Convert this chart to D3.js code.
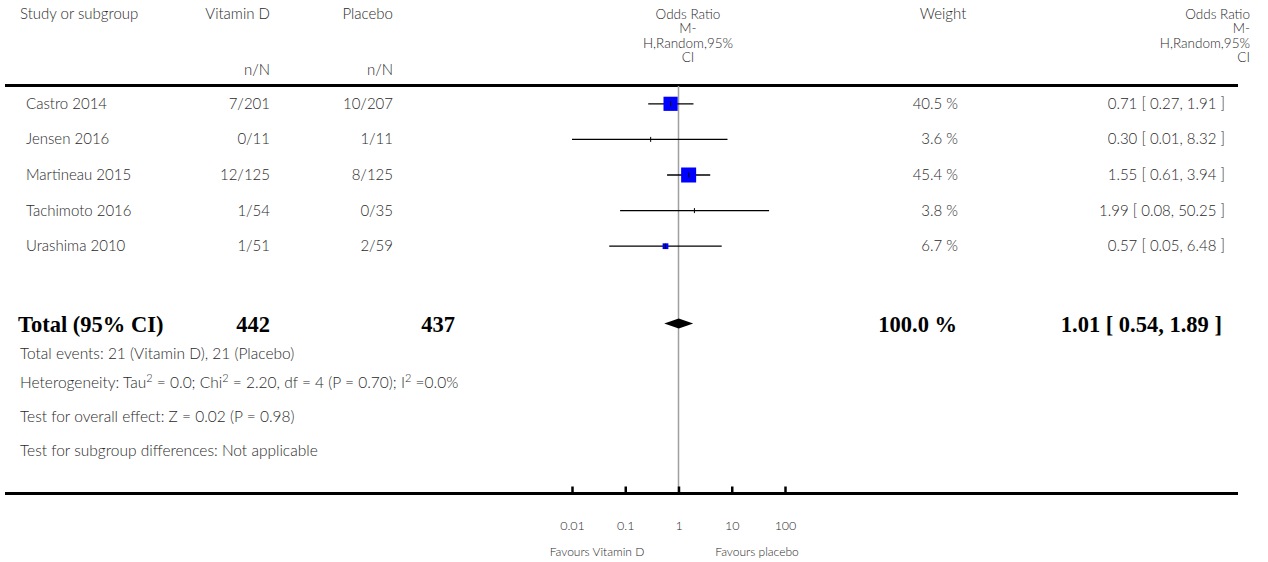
<!DOCTYPE html>
<html lang="en">
<head>
    <meta charset="UTF-8">
    <title>Forest plot - Vitamin D vs Placebo</title>
    <style>
        body { margin: 0; background: #fff; }
        svg text { font-family: Lato, "Open Sans", sans-serif; font-weight: 300; fill: #2a2a2a; }
        svg text.bold { font-family: "Liberation Serif", "DejaVu Serif", serif; font-weight: bold; fill: #000; }
    </style>
</head>
<body>
    <svg id="forest" width="1268" height="562"></svg>

    <script src="https://cdn.jsdelivr.net/npm/d3@7"></script>
    <script>
        const studies = ["Castro 2014", "Jensen 2016", "Martineau 2015", "Tachimoto 2016", "Urashima 2010"];
        const vitD = ["7/201", "0/11", "12/125", "1/54", "1/51"];
        const placebo = ["10/207", "1/11", "8/125", "0/35", "2/59"];
        const or = [0.71, 0.30, 1.55, 1.99, 0.57];
        const lower = [0.27, 0.01, 0.61, 0.08, 0.05];
        const upper = [1.91, 8.32, 3.94, 50.25, 6.48];
        const weight = [40.5, 3.6, 45.4, 3.8, 6.7];

        const total = {n1: 442, n2: 437, or: 1.01, lo: 0.54, hi: 1.89, weight: 100.0};
        const footNotes = [
            "Total events: 21 (Vitamin D), 21 (Placebo)",
            "Heterogeneity: Tau|2| = 0.0; Chi|2| = 2.20, df = 4 (P = 0.70); I|2| =0.0%",
            "Test for overall effect: Z = 0.02 (P = 0.98)",
            "Test for subgroup differences: Not applicable"
        ];
        const ticks = [0.01, 0.1, 1, 10, 100];
        const tickLabels = ["0.01", "0.1", "1", "10", "100"];

        const rowsData = studies.map((s, i) => ({
            name: s, n1: vitD[i], n2: placebo[i], or: or[i], lo: lower[i], hi: upper[i], w: weight[i]
        }));

        const svg = d3.select("#forest");
        const fmt = d3.format(".2f");

        const x = d3.scaleLog().domain([0.01, 100]).range([572, 785]);
        const y = d3.scaleBand().domain(studies).range([86, 264]);
        const side = d3.scaleSqrt().domain([0, 45.4]).range([0, 15]);

        // header
        const head = svg.append("g").attr("font-size", 15);
        head.append("text").attr("x", 20).attr("y", 19).text("Study or subgroup");
        [["Vitamin D", 270], ["Placebo", 393]].forEach(([t, xx]) => {
            head.append("text").attr("x", xx).attr("y", 19).attr("text-anchor", "end").text(t);
            head.append("text").attr("x", xx).attr("y", 75).attr("text-anchor", "end").text("n/N");
        });
        const orHead = ["Odds Ratio", "M-", "H,Random,95%", "CI"];
        orHead.forEach((t, i) => {
            head.append("text").attr("x", 688).attr("y", 19 + i * 14.3).attr("font-size", 13.5)
                .attr("text-anchor", "middle").text(t);
            head.append("text").attr("x", 1250).attr("y", 19 + i * 14.3).attr("font-size", 13.5)
                .attr("text-anchor", "end").text(t);
        });
        head.append("text").attr("x", 943).attr("y", 19).attr("text-anchor", "middle").text("Weight");

        // top rule
        svg.append("line").attr("x1", 5).attr("x2", 1238).attr("y1", 85.5).attr("y2", 85.5)
            .attr("stroke", "#000").attr("stroke-width", 3);

        // null line
        svg.append("line").attr("x1", x(1)).attr("x2", x(1)).attr("y1", 86).attr("y2", 493)
            .attr("stroke", "#a0a0a0").attr("stroke-width", 1.5);

        // study rows
        const rows = svg.selectAll("g.row").data(rowsData).enter().append("g").attr("class", "row")
            .attr("transform", d => `translate(0, ${y(d.name) + y.bandwidth() / 2})`)
            .attr("font-size", 15);

        rows.append("text").attr("x", 26).attr("y", 5).text(d => d.name);
        rows.append("text").attr("x", 270).attr("y", 5).attr("text-anchor", "end").text(d => d.n1);
        rows.append("text").attr("x", 393).attr("y", 5).attr("text-anchor", "end").text(d => d.n2);
        rows.append("text").attr("x", 958).attr("y", 5).attr("text-anchor", "end")
            .text(d => d.w.toFixed(1) + " %");
        rows.append("text").attr("x", 1225).attr("y", 5).attr("text-anchor", "end")
            .text(d => `${fmt(d.or)} [ ${fmt(d.lo)}, ${fmt(d.hi)} ]`);

        rows.append("line").attr("x1", d => x(d.lo)).attr("x2", d => x(d.hi))
            .attr("y1", 0).attr("y2", 0).attr("stroke", "#000").attr("stroke-width", 1.3);
        rows.filter(d => d.w > 5).append("rect")
            .attr("x", d => x(d.or) - side(d.w) / 2)
            .attr("y", d => -side(d.w) / 2)
            .attr("width", d => side(d.w))
            .attr("height", d => side(d.w))
            .attr("fill", "#0000ff");
        rows.append("line").attr("x1", d => x(d.or)).attr("x2", d => x(d.or))
            .attr("y1", -2.5).attr("y2", 2.5).attr("stroke", "#000").attr("stroke-width", 1);

        // total row
        const ty = 325;
        const tot = svg.append("g").attr("font-size", 22.5);
        tot.append("text").attr("class", "bold").attr("x", 18).attr("y", ty + 7).text("Total (95% CI)");
        tot.append("text").attr("class", "bold").attr("x", 270).attr("y", ty + 7).attr("text-anchor", "end").text(total.n1);
        tot.append("text").attr("class", "bold").attr("x", 455).attr("y", ty + 7).attr("text-anchor", "end").text(total.n2);
        tot.append("text").attr("class", "bold").attr("x", 957).attr("y", ty + 7).attr("text-anchor", "end")
            .text(total.weight.toFixed(1) + " %");
        tot.append("text").attr("class", "bold").attr("x", 1222).attr("y", ty + 7).attr("text-anchor", "end")
            .text(`${fmt(total.or)} [ ${fmt(total.lo)}, ${fmt(total.hi)} ]`);
        svg.append("path")
            .attr("d", d3.line()([[x(total.lo), ty - 1.5], [x(total.or), ty - 6.5], [x(total.hi), ty - 1.5], [x(total.or), ty + 3.5]]) + "Z")
            .attr("fill", "#000");

        // footnotes with superscripts
        const footY = [354, 383, 417, 451];
        footNotes.forEach((t, i) => {
            const tx = svg.append("text").attr("x", 20).attr("y", footY[i] + 5).attr("font-size", 15.5);
            t.split("|").forEach((part, k) => {
                const ts = tx.append("tspan").text(part);
                if (k % 2 === 1) ts.attr("baseline-shift", "super").attr("font-size", 11);
            });
        });

        // axis
        const axisY = 493.5;
        svg.append("line").attr("x1", 5).attr("x2", 1238).attr("y1", axisY).attr("y2", axisY)
            .attr("stroke", "#000").attr("stroke-width", 3);
        const axis = d3.axisBottom(x).tickValues(ticks).tickFormat((d, i) => tickLabels[i]).tickSize(0).tickPadding(0);
        const ag = svg.append("g").attr("transform", `translate(0, ${axisY})`).call(axis);
        ag.select(".domain").remove();
        ag.selectAll(".tick text").attr("y", 28).attr("font-size", 12.5).attr("fill", "#2a2a2a")
            .attr("font-family", "Lato, sans-serif");
        ag.selectAll(".tick").append("line").attr("y1", -7).attr("y2", 0)
            .attr("stroke", "#000").attr("stroke-width", 2.5);

        svg.append("text").attr("x", 597).attr("y", 556).attr("font-size", 12).attr("text-anchor", "middle").text("Favours Vitamin D");
        svg.append("text").attr("x", 757).attr("y", 556).attr("font-size", 12).attr("text-anchor", "middle").text("Favours placebo");
    </script>
</body>
</html>
